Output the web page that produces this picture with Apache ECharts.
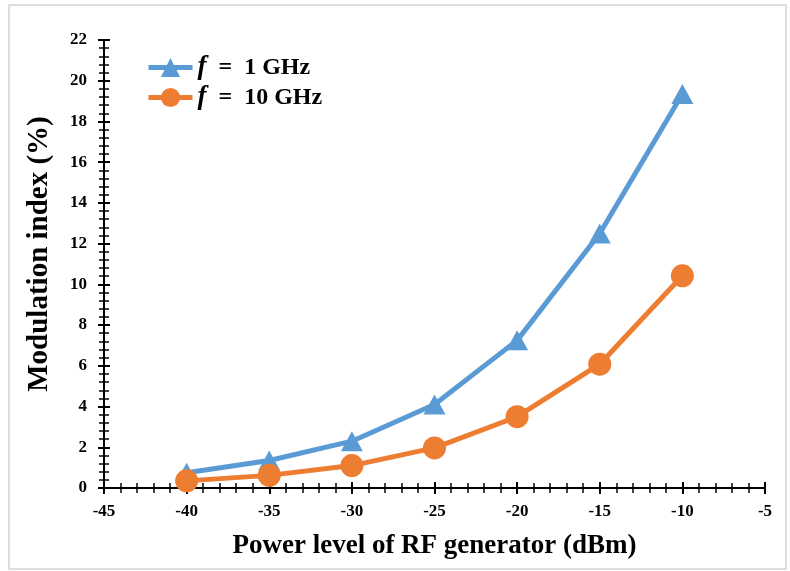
<!DOCTYPE html>
<html>
<head>
<meta charset="utf-8">
<script src="https://cdn.jsdelivr.net/npm/echarts@6/dist/echarts.min.js"></script>
<style>
  html, body { margin: 0; padding: 0; background: #fff; }
  #chart { width: 790px; height: 571px; }
</style>
</head>
<body>
<div id="chart"></div>
<script>
// Power levels of the RF generator (dBm)
const powerLevels = [-40, -35, -30, -25, -20, -15, -10];
// Modulation index (%) at each power level
const index1GHz = [0.75, 1.35, 2.3, 4.1, 7.25, 12.5, 19.35];
const index10GHz = [0.35, 0.62, 1.1, 1.97, 3.5, 6.08, 10.42];
const freqLabels = ['1 GHz', '10 GHz'];

const FONT = "'Liberation Serif', 'Times New Roman', serif";
const BLUE = '#5B9BD5';
const ORANGE = '#ED7D31';

const pairs = (xs, ys) => xs.map((x, i) => [x, ys[i]]);

const chart = echarts.init(document.getElementById('chart'));

const tickLabel = { fontFamily: FONT, fontWeight: 'bold', fontSize: 17, color: '#000' };

chart.setOption({
  animation: false,
  backgroundColor: '#fff',
  graphic: [{
    type: 'rect',
    shape: { x: 9, y: 5, width: 777, height: 564 },
    style: { fill: 'none', stroke: '#d4d4d4', lineWidth: 1.5 },
    silent: true
  }],
  grid: { left: 104, right: 25, top: 40, bottom: 83 },
  legend: {
    left: 141, top: 49,
    orient: 'vertical',
    itemWidth: 44, itemHeight: 24, itemGap: 3,
    lineStyle: { width: 5 },
    data: freqLabels.map(f => 'f = ' + f),
    formatter: name => '{i|f}{n|  =  ' + name.slice(4) + '}',
    textStyle: {
      fontFamily: FONT, fontWeight: 'bold', fontSize: 24, color: '#000',
      rich: {
        i: { fontFamily: FONT, fontStyle: 'italic', fontWeight: 'bold', fontSize: 27, color: '#000' },
        n: { fontFamily: FONT, fontWeight: 'bold', fontSize: 24, color: '#000' }
      }
    }
  },
  xAxis: [{
    type: 'value', min: -45, max: -5, interval: 5, position: 'bottom',
    name: 'Power level of RF generator (dBm)',
    nameLocation: 'middle', nameGap: 45,
    nameTextStyle: { fontFamily: FONT, fontWeight: 'bold', fontSize: 27, color: '#000' },
    axisLine: { onZero: false, lineStyle: { color: '#000', width: 2 } },
    axisTick: { show: true, length: 6, lineStyle: { color: '#000', width: 2 } },
    minorTick: { show: true, splitNumber: 5, length: 5, lineStyle: { color: '#000', width: 1.5 } },
    axisLabel: Object.assign({ margin: 15 }, tickLabel),
    splitLine: { show: false }, minorSplitLine: { show: false }
  }, {
    type: 'value', min: -45, max: -5, interval: 5, position: 'bottom',
    axisLine: { show: false, onZero: false },
    axisTick: { show: true, inside: true, length: 6, lineStyle: { color: '#000', width: 2 } },
    minorTick: { show: true, splitNumber: 5, length: 5, lineStyle: { color: '#000', width: 1.5 } },
    axisLabel: { show: false },
    splitLine: { show: false }
  }],
  yAxis: [{
    type: 'value', min: 0, max: 22, interval: 2, position: 'left',
    name: 'Modulation index (%)',
    nameLocation: 'middle', nameGap: 50,
    nameTextStyle: { fontFamily: FONT, fontWeight: 'bold', fontSize: 29, color: '#000', padding: [0, 0, 0, 20] },
    axisLine: { show: true, onZero: false, lineStyle: { color: '#000', width: 2 } },
    axisTick: { show: true, length: 6, lineStyle: { color: '#000', width: 2 } },
    minorTick: { show: true, splitNumber: 5, length: 5, lineStyle: { color: '#000', width: 1.5 } },
    axisLabel: Object.assign({ margin: 17 }, tickLabel),
    splitLine: { show: false }, minorSplitLine: { show: false }
  }, {
    type: 'value', min: 0, max: 22, interval: 2, position: 'left',
    axisLine: { show: false, onZero: false },
    axisTick: { show: true, inside: true, length: 6, lineStyle: { color: '#000', width: 2 } },
    minorTick: { show: true, splitNumber: 5, length: 5, lineStyle: { color: '#000', width: 1.5 } },
    axisLabel: { show: false },
    splitLine: { show: false }
  }],
  series: [{
    name: 'f = ' + freqLabels[0],
    type: 'line',
    data: pairs(powerLevels, index1GHz),
    symbol: 'triangle', symbolSize: [22, 20],
    lineStyle: { color: BLUE, width: 5 },
    itemStyle: { color: BLUE },
    z: 2
  }, {
    name: 'f = ' + freqLabels[1],
    type: 'line',
    data: pairs(powerLevels, index10GHz),
    symbol: 'circle', symbolSize: 23,
    lineStyle: { color: ORANGE, width: 5 },
    itemStyle: { color: ORANGE },
    z: 3
  }]
});
</script>
</body>
</html>
